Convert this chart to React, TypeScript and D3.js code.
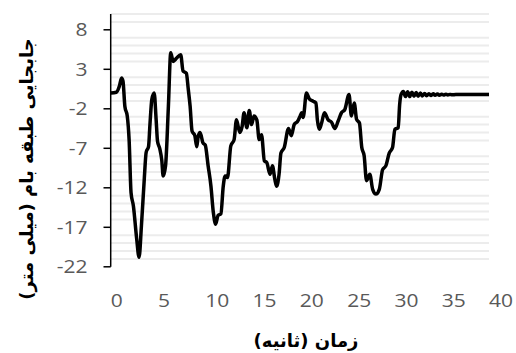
import React from "react";
import * as d3 from "d3";

const TIME = [
  0, 0.6, 0.9, 1.15, 1.3, 1.5, 1.75, 1.95, 2.15, 2.4, 2.75, 3.0, 3.25, 3.55, 3.75, 4.0, 4.15, 4.35, 4.6, 4.8,
  4.95, 5.2, 5.4, 5.55, 5.8, 6.1, 6.35, 6.6, 6.95, 7.4, 7.65, 8.0, 8.2, 8.4, 8.6, 8.9, 9.1, 9.25, 9.45, 9.75,
  10.0, 10.3, 10.6, 10.85, 11.1, 11.35, 11.65, 11.9, 12.1, 12.35, 12.7, 13.05, 13.3, 13.65, 13.9, 14.1, 14.4,
  14.65, 14.9, 15.15, 15.45, 15.7, 15.95, 16.25, 16.5, 16.85, 17.1, 17.35, 17.55, 17.8, 18.0, 18.35, 18.8,
  19.1, 19.4, 19.75, 20.0, 20.2, 20.35, 20.7, 21.0, 21.4, 21.7, 21.85, 22.05, 22.3, 22.6, 23.0, 23.35, 23.7,
  24.05, 24.4, 24.75, 25.2, 25.45, 25.75, 26.0, 26.3, 26.55, 26.8, 27.05, 27.4, 27.7, 28.05, 28.4, 28.75,
  29.1, 29.45, 29.8, 30.05, 30.4, 30.55, 30.7, 30.95, 31.17, 31.4, 31.62, 31.85, 32.07, 32.3, 32.5, 32.75,
  32.95, 33.2, 33.4, 33.65, 33.85, 34.1, 34.3, 34.55, 34.75, 35.0, 35.2, 35.45, 35.65, 35.9, 36.1, 36.5, 40.0,
];

const DISP = [
  0, 0.1, 0.8, 1.9, 1.5, -1.7, -2.9, -6, -12.6, -14.3, -18.5, -20.8, -16.8, -10.9, -7.5, -6.8, -4, -0.8, 0.0, -3.3,
  -6.1, -7.1, -8.5, -10.5, -9.2, -1.7, 5.1, 4.0, 4.4, 4.85, 2.8, 2.5, 0.5, -1.7, -4.8, -5.4, -6.8, -5.5, -5.0, -6.3,
  -6.6, -9.2, -11.8, -15.1, -16.6, -15.5, -15.3, -11.8, -10.5, -10.7, -6.7, -5.9, -3.4, -5.0, -4.2, -2.5, -4.4,
  -2.2, -4.0, -2.9, -3.4, -5.9, -5.3, -8.6, -8.8, -10.3, -9.2, -10.9, -11.8, -10.3, -7.6, -6.9, -4.5,
  -5.4, -4.0, -3.6, -3.0, -2.5, -3.1, 0.0, -0.75, -1.05, -1.25, -3.35, -4.6, -3.8, -2.5, -3.4, -3.7, -4.5,
  -3.55, -2.5, -2.1, -0.2, -2.9, -1.25, -3.35, -3.8, -6.9, -7.95, -11.1, -10.3, -12.2, -12.8, -12.2, -9.7,
  -9.2, -7.6, -6.9, -4.6, -4.4, -1.5, -0.2, 0.2, -0.45, 0.15, -0.45, 0.1, -0.4, 0.05, -0.4, 0.0,
  -0.38, -0.05, -0.35, -0.08, -0.33, -0.1, -0.3, -0.13, -0.28, -0.15, -0.26, -0.17, -0.24, -0.18, -0.23, -0.2, -0.2,
];

const X_TICKS = [0, 5, 10, 15, 20, 25, 30, 35, 40];
const Y_TICKS = [-22, -17, -12, -7, -2, 3, 8];
const X_TITLE = "زمان (ثانیه)";
const Y_TITLE = "جابجایی طبقه بام (میلی متر)";

export default function App() {
  const x = d3.scaleLinear().domain([0, 40]).range([110.7, 489]);
  const y = d3.scaleLinear().domain([-22, 10]).range([266.8, 14]);
  const minor = d3.range(-21, 11).filter((v) => !Y_TICKS.includes(v));
  const pts: [number, number][] = TIME.map((t, i) => [t, DISP[i]]);
  const line = d3
    .line<[number, number]>()
    .x((d) => x(d[0]))
    .y((d) => y(d[1]))
    .curve(d3.curveMonotoneX);
  const labelFont = "'Open Sans', sans-serif";
  return (
    <svg
      width={516}
      height={353}
      style={{ position: "absolute", left: 0, top: 0, background: "#fff" }}
    >
      <rect width={516} height={353} fill="#fff" />
      {minor.map((v) => (
        <line key={v} x1={x(0)} x2={x(40)} y1={y(v)} y2={y(v)} stroke="#ececec" strokeWidth={2} />
      ))}
      <line x1={110.7} x2={110.7} y1={y(10)} y2={y(-22)} stroke="#000" strokeWidth={1.5} />
      {Y_TICKS.map((v) => (
        <g key={v}>
          <line x1={103.5} x2={110.7} y1={y(v)} y2={y(v)} stroke="#000" strokeWidth={1.5} />
          <text
            transform={`translate(87.5,${y(v) + 6.3}) scale(1.2,1)`}
            textAnchor="end"
            fontFamily={labelFont}
            fontSize={17.5}
            fill="#595959"
          >
            {v}
          </text>
        </g>
      ))}
      {X_TICKS.map((v) => (
        <text
          key={v}
          transform={`translate(${x(v)},306.5) scale(1.2,1)`}
          textAnchor="start"
          fontFamily={labelFont}
          fontSize={17.5}
          fill="#595959"
        >
          {v}
        </text>
      ))}
      <path d={line(pts) || ""} fill="none" stroke="#000" strokeWidth={3.5} strokeLinejoin="round" />
      <text
        x={306}
        y={347}
        textAnchor="middle"
        direction="rtl"
        fontFamily="'DejaVu Sans', sans-serif"
        fontWeight="bold"
        fontSize={18}
        fill="#000"
      >
        {X_TITLE}
      </text>
      <text
        transform="translate(33,169) rotate(-90)"
        textAnchor="middle"
        direction="rtl"
        fontFamily="'DejaVu Sans', sans-serif"
        fontWeight="bold"
        fontSize={18}
        fill="#000"
      >
        {Y_TITLE}
      </text>
    </svg>
  );
}
